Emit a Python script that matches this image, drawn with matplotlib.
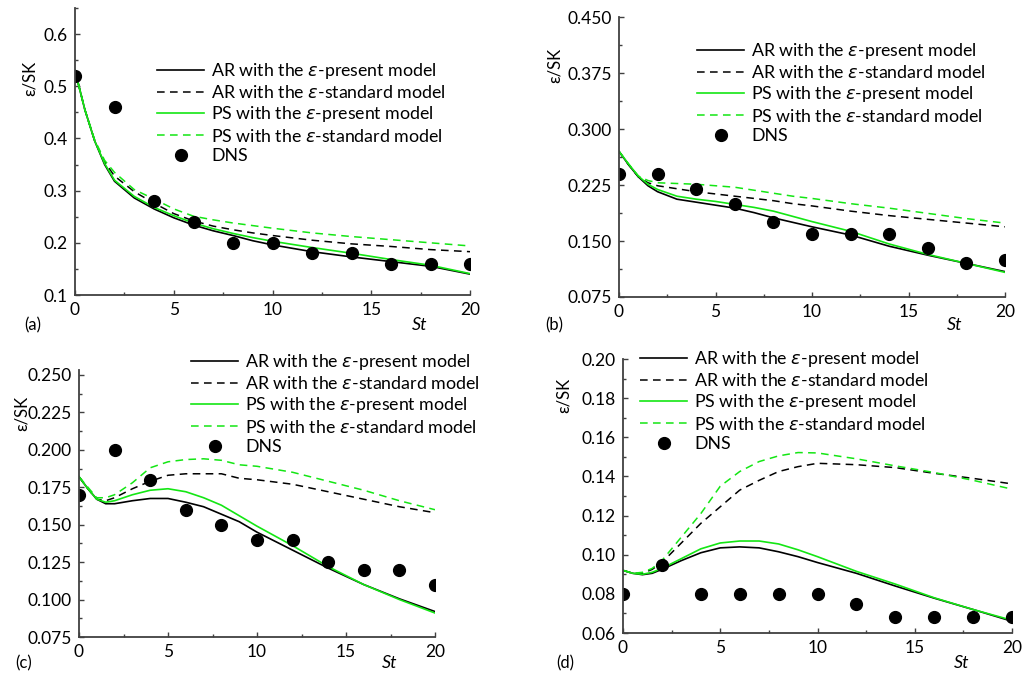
import numpy as np
import matplotlib
matplotlib.use('Agg')
import matplotlib.pyplot as plt
from matplotlib.ticker import MultipleLocator, FormatStrFormatter

plt.rcParams['font.family'] = ['Lato', 'DejaVu Sans']
plt.rcParams['mathtext.fontset'] = 'dejavusans'

# time axis of the model curves and of the DNS points
st_curve = [0, 0.5, 1, 1.5, 2, 3, 4, 5, 6, 7, 8, 9, 10, 12, 14, 16, 18, 20]
st_dns = [0, 2, 4, 6, 8, 10, 12, 14, 16, 18, 20]

# (a)
a_ar_present = [0.53, 0.455, 0.395, 0.35, 0.318, 0.286, 0.265, 0.248, 0.234, 0.223, 0.214, 0.204, 0.196, 0.183, 0.173, 0.164, 0.155, 0.14]
a_ar_standard = [0.53, 0.455, 0.395, 0.355, 0.328, 0.298, 0.276, 0.256, 0.242, 0.232, 0.225, 0.219, 0.214, 0.205, 0.198, 0.193, 0.187, 0.183]
a_ps_present = [0.53, 0.455, 0.395, 0.352, 0.32, 0.289, 0.268, 0.252, 0.238, 0.227, 0.218, 0.21, 0.203, 0.191, 0.18, 0.168, 0.157, 0.141]
a_ps_standard = [0.53, 0.455, 0.397, 0.358, 0.335, 0.302, 0.284, 0.265, 0.251, 0.244, 0.238, 0.233, 0.228, 0.219, 0.212, 0.206, 0.2, 0.194]
a_dns = [0.52, 0.46, 0.28, 0.24, 0.20, 0.20, 0.18, 0.18, 0.16, 0.16, 0.16]

# (b)
b_ar_present = [0.27, 0.252, 0.236, 0.224, 0.216, 0.206, 0.202, 0.198, 0.194, 0.188, 0.181, 0.175, 0.169, 0.158, 0.143, 0.131, 0.12, 0.109]
b_ar_standard = [0.27, 0.252, 0.236, 0.228, 0.224, 0.22, 0.216, 0.213, 0.21, 0.207, 0.204, 0.2, 0.197, 0.19, 0.184, 0.179, 0.174, 0.169]
b_ps_present = [0.27, 0.253, 0.237, 0.226, 0.219, 0.21, 0.206, 0.203, 0.199, 0.195, 0.19, 0.183, 0.176, 0.163, 0.146, 0.132, 0.12, 0.108]
b_ps_standard = [0.27, 0.253, 0.237, 0.231, 0.228, 0.227, 0.226, 0.224, 0.222, 0.218, 0.214, 0.21, 0.207, 0.2, 0.194, 0.187, 0.18, 0.174]
b_dns = [0.24, 0.24, 0.22, 0.20, 0.175, 0.16, 0.16, 0.16, 0.14, 0.12, 0.125]

# (c)
c_ar_present = [0.182, 0.174, 0.167, 0.164, 0.164, 0.166, 0.1675, 0.1675, 0.165, 0.162, 0.157, 0.152, 0.145, 0.133, 0.121, 0.11, 0.1005, 0.092]
c_ar_standard = [0.182, 0.174, 0.167, 0.166, 0.168, 0.174, 0.179, 0.183, 0.184, 0.184, 0.184, 0.181, 0.18, 0.177, 0.172, 0.167, 0.162, 0.158]
c_ps_present = [0.182, 0.174, 0.167, 0.165, 0.166, 0.17, 0.173, 0.174, 0.172, 0.168, 0.163, 0.156, 0.149, 0.136, 0.122, 0.11, 0.1, 0.091]
c_ps_standard = [0.182, 0.175, 0.168, 0.168, 0.17, 0.178, 0.188, 0.192, 0.1935, 0.194, 0.193, 0.19, 0.189, 0.185, 0.179, 0.173, 0.166, 0.16]
c_dns = [0.17, 0.20, 0.18, 0.16, 0.15, 0.14, 0.14, 0.125, 0.12, 0.12, 0.11]

# (d)
d_ar_present = [0.092, 0.0905, 0.0898, 0.0905, 0.0925, 0.097, 0.101, 0.1035, 0.104, 0.1035, 0.1015, 0.099, 0.096, 0.0905, 0.084, 0.0778, 0.072, 0.066]
d_ar_standard = [0.092, 0.0905, 0.0905, 0.0925, 0.096, 0.106, 0.116, 0.1245, 0.133, 0.138, 0.1425, 0.145, 0.1467, 0.146, 0.1445, 0.1416, 0.139, 0.1362]
d_ps_present = [0.092, 0.0905, 0.09, 0.091, 0.093, 0.098, 0.103, 0.106, 0.107, 0.107, 0.1055, 0.1025, 0.099, 0.0915, 0.085, 0.078, 0.072, 0.0665]
d_ps_standard = [0.092, 0.0905, 0.091, 0.093, 0.097, 0.109, 0.121, 0.135, 0.1425, 0.1476, 0.1505, 0.1522, 0.152, 0.149, 0.1454, 0.142, 0.138, 0.1335]
d_dns = [0.08, 0.095, 0.08, 0.08, 0.08, 0.08, 0.075, 0.068, 0.068, 0.068, 0.068]

labels = [r'AR with the $\varepsilon$-present model',
          r'AR with the $\varepsilon$-standard model',
          r'PS with the $\varepsilon$-present model',
          r'PS with the $\varepsilon$-standard model',
          'DNS']

W, H = 1025, 675
figure = plt.figure(figsize=(W/100.0, H/100.0), dpi=100, facecolor='white')

green = '#14e614'
dash = (0, (5, 3.5))
spine_col = '#404040'


def px_axes(left, right, top, bottom):
    return figure.add_axes([left/W, 1 - bottom/H, (right-left)/W, (bottom-top)/H])


def configure_subplot(ax, ar_p, ar_s, ps_p, ps_s, dns, ylim, ystep, fmt,
                      leg_xy, ylab_xy, st_xy, tag, tag_xy):
    ax.plot(st_curve, ar_p, color='black', lw=1.2, label=labels[0])
    ax.plot(st_curve, ar_s, color='black', lw=1.1, ls=dash, label=labels[1])
    ax.plot(st_curve, ps_p, color=green, lw=1.2, label=labels[2])
    ax.plot(st_curve, ps_s, color=green, lw=1.1, ls=dash, label=labels[3])
    ax.plot(st_dns, dns, 'o', color='black', ms=8.5, label=labels[4])

    ax.set_xlim(0, 20)
    ax.set_ylim(*ylim)
    ax.xaxis.set_major_locator(MultipleLocator(5))
    ax.xaxis.set_minor_locator(MultipleLocator(2.5))
    ax.yaxis.set_major_locator(MultipleLocator(ystep))
    ax.yaxis.set_minor_locator(MultipleLocator(ystep/2))
    ax.yaxis.set_major_formatter(FormatStrFormatter(fmt))
    ax.xaxis.set_major_formatter(FormatStrFormatter('%d'))
    for s in ['top', 'right']:
        ax.spines[s].set_visible(False)
    for s in ['left', 'bottom']:
        ax.spines[s].set_color(spine_col)
        ax.spines[s].set_linewidth(1.3)
    ax.tick_params(which='major', direction='in', length=3.5, width=1.0,
                   color=spine_col, labelsize=12.5, pad=5)
    ax.tick_params(which='minor', direction='in', length=2, width=1.0, color=spine_col)

    ax.legend(loc='upper left', bbox_to_anchor=(leg_xy[0]/W, 1 - leg_xy[1]/H),
              bbox_transform=figure.transFigure, frameon=False, fontsize=12.8,
              borderpad=0, borderaxespad=0, handlelength=2.65, handletextpad=0.4,
              labelspacing=0.18, numpoints=1)

    figure.text(ylab_xy[0]/W, 1 - ylab_xy[1]/H, '\u03b5/SK', rotation=90,
                ha='center', va='center', fontsize=12)
    figure.text(st_xy[0]/W, 1 - st_xy[1]/H, 'St', style='italic',
                ha='center', va='center', fontsize=13)
    figure.text(tag_xy[0]/W, 1 - tag_xy[1]/H, tag, ha='center', va='center', fontsize=12)


ax_a = px_axes(75, 470, 8, 295)
ax_b = px_axes(619, 1005, 17, 297)
ax_c = px_axes(79, 435, 370, 637)
ax_d = px_axes(623, 1012, 359, 633)

configure_subplot(ax_a, a_ar_present, a_ar_standard, a_ps_present, a_ps_standard,
                  a_dns, (0.1, 0.65), 0.1, '%.1f',
                  (157, 61), (30, 78), (420, 325), '(a)', (33, 325))
configure_subplot(ax_b, b_ar_present, b_ar_standard, b_ps_present, b_ps_standard,
                  b_dns, (0.075, 0.45), 0.075, '%.3f',
                  (697, 41), (555, 65), (955, 325), '(b)', (554, 325))
configure_subplot(ax_c, c_ar_present, c_ar_standard, c_ps_present, c_ps_standard,
                  c_dns, (0.075, 0.2533), 0.025, '%.3f',
                  (191, 352), (22, 413), (390, 663), '(c)', (24, 663))
configure_subplot(ax_d, d_ar_present, d_ar_standard, d_ps_present, d_ps_standard,
                  d_dns, (0.06, 0.20), 0.02, '%.2f',
                  (640, 349), (564, 395), (962, 663), '(d)', (565, 663))

figure.savefig('out.png', dpi=100, facecolor='white')
